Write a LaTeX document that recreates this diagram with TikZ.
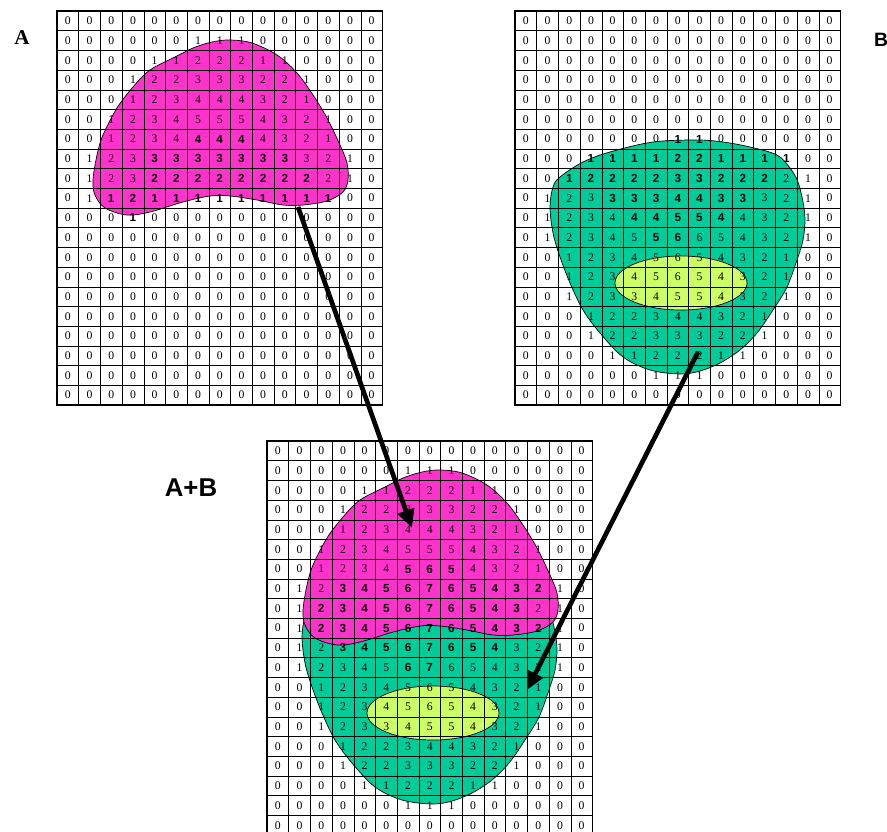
\documentclass[tikz,border=0pt]{standalone}
\usepackage{fontspec}
\setmainfont{Liberation Serif}
\newfontfamily\arialfont{Liberation Sans}
\usetikzlibrary{arrows.meta}

\definecolor{blobpink}{RGB}{255,51,204}
\definecolor{blobgreen}{RGB}{0,204,153}
\definecolor{blobyellow}{RGB}{204,255,102}

\newcommand{\bd}[1]{{\arialfont\bfseries #1}}

\newcommand{\gridA}{
 {0,0,0,0,0,0,0,0,0,0,0,0,0,0,0},
 {0,0,0,0,0,0,1,1,1,0,0,0,0,0,0},
 {0,0,0,0,1,1,2,2,2,1,1,0,0,0,0},
 {0,0,0,1,2,2,3,3,3,2,2,1,0,0,0},
 {0,0,0,1,2,3,4,4,4,3,2,1,0,0,0},
 {0,0,1,2,3,4,5,5,5,4,3,2,1,0,0},
 {0,0,1,2,3,4,\bd4,\bd4,\bd4,4,3,2,1,0,0},
 {0,1,2,3,\bd3,\bd3,\bd3,\bd3,\bd3,\bd3,\bd3,3,2,1,0},
 {0,1,2,3,\bd2,\bd2,\bd2,\bd2,\bd2,\bd2,\bd2,\bd2,2,1,0},
 {0,1,\bd1,\bd2,\bd1,\bd1,\bd1,\bd1,\bd1,\bd1,\bd1,\bd1,\bd1,0,0},
 {0,0,0,\bd1,0,0,0,0,0,0,0,0,0,0,0},
 {0,0,0,0,0,0,0,0,0,0,0,0,0,0,0},
 {0,0,0,0,0,0,0,0,0,0,0,0,0,0,0},
 {0,0,0,0,0,0,0,0,0,0,0,0,0,0,0},
 {0,0,0,0,0,0,0,0,0,0,0,0,0,0,0},
 {0,0,0,0,0,0,0,0,0,0,0,0,0,0,0},
 {0,0,0,0,0,0,0,0,0,0,0,0,0,0,0},
 {0,0,0,0,0,0,0,0,0,0,0,0,0,0,0},
 {0,0,0,0,0,0,0,0,0,0,0,0,0,0,0},
 {0,0,0,0,0,0,0,0,0,0,0,0,0,0,0}}

\newcommand{\gridB}{
 {0,0,0,0,0,0,0,0,0,0,0,0,0,0,0},
 {0,0,0,0,0,0,0,0,0,0,0,0,0,0,0},
 {0,0,0,0,0,0,0,0,0,0,0,0,0,0,0},
 {0,0,0,0,0,0,0,0,0,0,0,0,0,0,0},
 {0,0,0,0,0,0,0,0,0,0,0,0,0,0,0},
 {0,0,0,0,0,0,0,0,0,0,0,0,0,0,0},
 {0,0,0,0,0,0,0,\bd1,\bd1,0,0,0,0,0,0},
 {0,0,0,\bd1,\bd1,\bd1,\bd1,\bd2,\bd2,\bd1,\bd1,\bd1,\bd1,0,0},
 {0,0,\bd1,\bd2,\bd2,\bd2,\bd2,\bd3,\bd3,\bd2,\bd2,\bd2,2,1,0},
 {0,1,2,3,\bd3,\bd3,\bd3,\bd4,\bd4,\bd3,\bd3,3,2,1,0},
 {0,1,2,3,4,\bd4,\bd4,\bd5,\bd5,\bd4,4,3,2,1,0},
 {0,1,2,3,4,5,\bd5,\bd6,6,5,4,3,2,1,0},
 {0,0,1,2,3,4,5,6,5,4,3,2,1,0,0},
 {0,0,1,2,3,4,5,6,5,4,3,2,1,0,0},
 {0,0,1,2,3,3,4,5,5,4,3,2,1,0,0},
 {0,0,0,1,2,2,3,4,4,3,2,1,0,0,0},
 {0,0,0,1,2,2,3,3,3,2,2,1,0,0,0},
 {0,0,0,0,1,1,2,2,2,1,1,0,0,0,0},
 {0,0,0,0,0,0,1,1,1,0,0,0,0,0,0},
 {0,0,0,0,0,0,0,0,0,0,0,0,0,0,0}}

\newcommand{\gridS}{
 {0,0,0,0,0,0,0,0,0,0,0,0,0,0,0},
 {0,0,0,0,0,0,1,1,1,0,0,0,0,0,0},
 {0,0,0,0,1,1,2,2,2,1,1,0,0,0,0},
 {0,0,0,1,2,2,3,3,3,2,2,1,0,0,0},
 {0,0,0,1,2,3,4,4,4,3,2,1,0,0,0},
 {0,0,1,2,3,4,5,5,5,4,3,2,1,0,0},
 {0,0,1,2,3,4,\bd5,\bd6,\bd5,4,3,2,1,0,0},
 {0,1,2,\bd3,\bd4,\bd5,\bd6,\bd7,\bd6,\bd5,\bd4,\bd3,\bd2,1,0},
 {0,1,\bd2,\bd3,\bd4,\bd5,\bd6,\bd7,\bd6,\bd5,\bd4,\bd3,2,1,0},
 {0,1,\bd2,\bd3,\bd4,\bd5,\bd6,\bd7,\bd6,\bd5,\bd4,\bd3,\bd2,1,0},
 {0,1,2,\bd3,\bd4,\bd5,\bd6,\bd7,\bd6,\bd5,\bd4,3,2,1,0},
 {0,1,2,3,4,5,\bd6,\bd7,6,5,4,3,2,1,0},
 {0,0,1,2,3,4,5,6,5,4,3,2,1,0,0},
 {0,0,1,2,3,4,5,6,5,4,3,2,1,0,0},
 {0,0,1,2,3,3,4,5,5,4,3,2,1,0,0},
 {0,0,0,1,2,2,3,4,4,3,2,1,0,0,0},
 {0,0,0,1,2,2,3,3,3,2,2,1,0,0,0},
 {0,0,0,0,1,1,2,2,2,1,1,0,0,0,0},
 {0,0,0,0,0,0,1,1,1,0,0,0,0,0,0},
 {0,0,0,0,0,0,0,0,0,0,0,0,0,0,0}}

\newcommand{\blobA}{\draw[blobline,fill=blobpink] plot[smooth cycle,tension=0.55] coordinates {
 (173,29) (195,32) (220,44) (240,62) (256,84) (270,107) (283,134) (290,152)
 (291,169) (286,181) (270,190) (246,194) (226,194) (200,189) (173,185) (153,185)
 (126,191) (93,201) (70,204) (48,197) (38,184) (36,169) (40,144) (46,124)
 (60,97) (76,76) (93,59) (118,46) (136,37) (155,31)};}

\newcommand{\blobB}{\draw[blobline,fill=blobgreen] plot[smooth cycle,tension=0.55] coordinates {
 (182,129) (208,131) (235,136) (262,144) (275,157) (283,171) (288,191) (290,209)
 (288,229) (282,249) (272,276) (258,299) (242,322) (225,339) (205,352) (185,360)
 (165,363) (135,359) (108,346) (85,322) (68,299) (55,272) (45,246) (38,222)
 (35,196) (38,176) (45,166) (68,151) (95,141) (138,131)};
 \draw[blobline,fill=blobyellow] (166,272) ellipse [x radius=66,y radius=27];}

\newcommand{\cellgrid}[2]{
 \foreach \i in {0,...,15} \draw[gridline] (\i*21.7,0) -- (\i*21.7,394);
 \foreach \j in {0,...,20} \draw[gridline] (0,\j*19.7) -- (325.5,\j*19.7);
 \draw[gridframe] (0,0) rectangle (325.5,394);
 \foreach \row [count=\r] in #2 {
  \foreach \v [count=\c] in \row {
   \node[cell] (#1-\r-\c) at (\c*21.7-10.85,\r*19.7-9.85) {\v};
  }
 }}

\begin{document}
\begin{tikzpicture}[x=0.3mm,y=-0.3mm,
 gridline/.style={black,line width=0.5pt},
 gridframe/.style={black,line width=1.6pt},
 blobline/.style={black,line width=0.6pt},
 cell/.style={inner sep=0pt,font=\fontsize{10}{12}\selectfont},
 bigarrow/.style={black,line width=4pt,-{Triangle[length=5.5mm,width=5mm]}},
 panel/.style={inner sep=0pt}]
	\useasboundingbox (0,0) rectangle (887,831);
	\begin{scope}[shift={(57,11)}]
		\blobA
		\cellgrid{A}{\gridA}
	\end{scope}
	\begin{scope}[shift={(515,11)}]
		\blobB
		\cellgrid{B}{\gridB}
	\end{scope}
	\begin{scope}[shift={(267,441)}]
		\blobB
		\blobA
		\cellgrid{S}{\gridS}
	\end{scope}
	\node[panel,font=\fontsize{18}{20}\selectfont\bfseries] (labA) at (22,38) {A};
	\node[panel,font=\fontsize{16.5}{18}\selectfont\arialfont\bfseries] (labB) at (881,40) {B};
	\node[panel,font=\fontsize{22}{24}\selectfont\arialfont\bfseries] (labS) at (191,488) {A+B};
	\coordinate (fromA) at (298,207);
	\coordinate (toA) at (412,528);
	\coordinate (fromB) at (698,352);
	\coordinate (toB) at (527,690);
	\draw[bigarrow] (fromA) -- (toA);
	\draw[bigarrow] (fromB) -- (toB);
\end{tikzpicture}
\end{document}
